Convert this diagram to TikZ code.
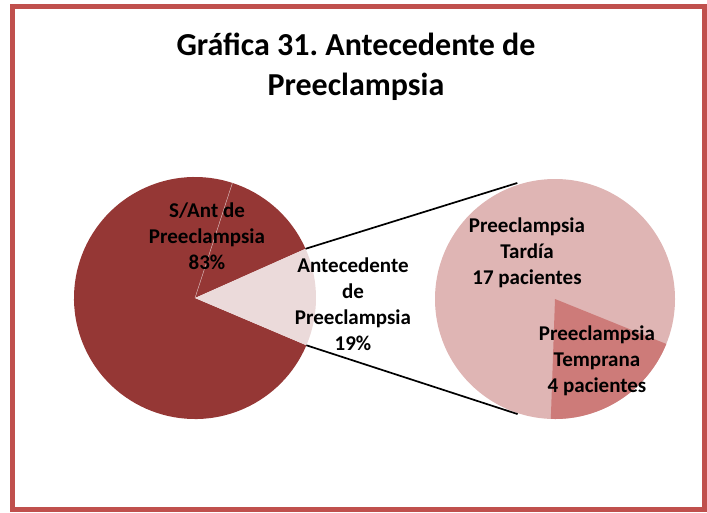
\documentclass[tikz,border=0pt]{standalone}
\usepackage{fontspec}
\setmainfont{Carlito}
\frenchspacing
\definecolor{framered}{HTML}{C0504D}
\definecolor{maindark}{HTML}{953735}
\definecolor{mainlight}{HTML}{EBDADA}
\definecolor{sublight}{HTML}{DFB5B4}
\definecolor{subdark}{HTML}{CD7B79}
\begin{document}
\begin{tikzpicture}[x=1pt,y=1pt]
    \useasboundingbox (0,0) rectangle (707,-512);
    \draw[framered,line width=5pt] (12.5,-6.5) rectangle (704.5,-509.5);
    % titulo
    \node[font=\bfseries\fontsize{32}{40}\selectfont,align=center] (titulo) at (356,-67) {Gr\'afica 31. Antecedente de\\Preeclampsia};
    % pastel principal
    \begin{scope}[shift={(195,-298)}]
        \coordinate (centro) at (0,0);
        \fill[maindark] (0,0) -- (24:121) arc (24:337:121) -- cycle;
        \fill[mainlight] (0,0) -- (-23:121) arc (-23:24:121) -- cycle;
        \draw[white!75!maindark,line width=0.4pt] (0,0) -- (72:121);
        \coordinate (arriba) at (24:121);
        \coordinate (abajo) at (-23:121);
    \end{scope}
    % pastel secundario
    \begin{scope}[shift={(555,-299)}]
        \fill[sublight] (0,0) circle (120);
        \fill[subdark] (0,0) -- (-92:120) arc (-92:-22:120) -- cycle;
        \coordinate (subarriba) at (108:122);
        \coordinate (subabajo) at (-108:121);
    \end{scope}
    % lineas de union
    \draw[black,line width=1.7pt] (arriba) -- (subarriba);
    \draw[black,line width=1.7pt] (abajo) -- (subabajo);
    % etiquetas
    \tikzstyle{etiqueta} = [font=\bfseries\fontsize{21}{26}\selectfont,align=center]
    \node[etiqueta] (sinant) at (207,-236) {S/Ant de\\Preeclampsia\\83\%};
    \node[etiqueta] (conant) at (353,-304) {Antecedente\\de\\Preeclampsia\\19\%};
    \node[etiqueta] (tardia) at (527,-253) {Preeclampsia\\Tard\'ia\\17 pacientes};
    \node[etiqueta] (temprana) at (597,-361) {Preeclampsia\\Temprana\\4 pacientes};
\end{tikzpicture}
\end{document}
